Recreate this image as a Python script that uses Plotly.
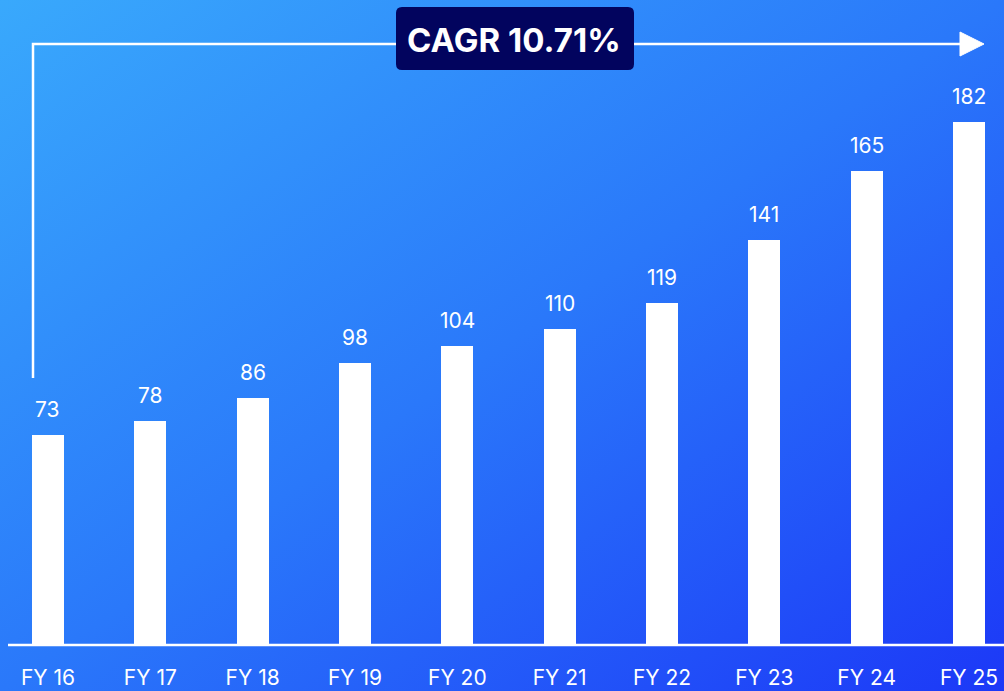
import base64
import plotly.graph_objects as go

categories = ["FY 16", "FY 17", "FY 18", "FY 19", "FY 20", "FY 21", "FY 22", "FY 23", "FY 24", "FY 25"]
values = [73, 78, 86, 98, 104, 110, 119, 141, 165, 182]
cagr_label = "CAGR 10.71%"

W, H = 1004, 691
PLOT_H = 645

svg = f'''<svg xmlns="http://www.w3.org/2000/svg" width="{W}" height="{H}" viewBox="0 0 {W} {H}" preserveAspectRatio="none">
<defs><linearGradient id="g" x1="0" y1="0" x2="1" y2="1">
<stop offset="0" stop-color="#39A9FC"/>
<stop offset="0.5" stop-color="#2A78FA"/>
<stop offset="1" stop-color="#1C38F7"/>
</linearGradient></defs>
<rect width="{W}" height="{H}" fill="url(#g)"/></svg>'''
bg_src = "data:image/svg+xml;base64," + base64.b64encode(svg.encode()).decode()

FONT = "Inter, 'Open Sans', sans-serif"

fig = go.Figure()
fig.add_trace(go.Bar(
    x=categories, y=values, marker=dict(color="white", line=dict(width=0)),
    width=0.315, hoverinfo="skip",
))

for c, v in zip(categories, values):
    fig.add_annotation(x=c, y=v, text=str(v), showarrow=False, yanchor="bottom",
                       yshift=11, font=dict(family=FONT, size=21, color="white"))

def px(x):
    return x / W

def py(y):
    return 1 - y / PLOT_H

shapes = []
# axis line
shapes.append(dict(type="line", xref="paper", yref="paper", x0=px(8), x1=1.0, y0=0, y1=0,
                   line=dict(color="white", width=2.5), layer="above"))
# CAGR connector
path = f"M {px(33)} {py(378)} L {px(33)} {py(44)} L {px(962)} {py(44)}"
shapes.append(dict(type="path", xref="paper", yref="paper", path=path,
                   line=dict(color="white", width=2.5), layer="above"))
# arrow head
tri = f"M {px(960)} {py(32)} L {px(984)} {py(44)} L {px(960)} {py(56)} Z"
shapes.append(dict(type="path", xref="paper", yref="paper", path=tri,
                   fillcolor="white", line=dict(color="white", width=1), layer="above"))
# rounded box
x0, x1, y0, y1, r = 396, 634, 7, 70, 6
box = (f"M {px(x0+r)} {py(y0)} L {px(x1-r)} {py(y0)} Q {px(x1)} {py(y0)} {px(x1)} {py(y0+r)} "
       f"L {px(x1)} {py(y1-r)} Q {px(x1)} {py(y1)} {px(x1-r)} {py(y1)} "
       f"L {px(x0+r)} {py(y1)} Q {px(x0)} {py(y1)} {px(x0)} {py(y1-r)} "
       f"L {px(x0)} {py(y0+r)} Q {px(x0)} {py(y0)} {px(x0+r)} {py(y0)} Z")
shapes.append(dict(type="path", xref="paper", yref="paper", path=box,
                   fillcolor="#02045E", line=dict(color="#02045E", width=0), layer="above"))

fig.add_annotation(xref="paper", yref="paper", x=px(514), y=py(40), text=f"<b>{cagr_label}</b>",
                   showarrow=False, font=dict(family=FONT, size=33, color="white"),
                   xanchor="center", yanchor="middle")

fig.update_layout(
    width=W, height=H,
    margin=dict(l=0, r=0, t=0, b=H - PLOT_H),
    paper_bgcolor="rgba(0,0,0,0)", plot_bgcolor="rgba(0,0,0,0)",
    showlegend=False, shapes=shapes,
    images=[dict(source=bg_src, xref="paper", yref="paper", x=0, y=1, sizex=1,
                 sizey=H / PLOT_H, xanchor="left", yanchor="top", sizing="stretch", layer="below")],
    xaxis=dict(type="category", range=[-0.469, 9.342], showgrid=False, zeroline=False,
               showline=False, ticks="", ticklabelstandoff=18,
               tickfont=dict(family=FONT, size=21, color="white"), fixedrange=True),
    yaxis=dict(range=[0, 224.3], visible=False, showgrid=False, zeroline=False, fixedrange=True),
    bargap=0,
)

fig.write_html("out.html", config={"displayModeBar": False},
               post_script="document.body.style.margin='0';document.body.style.overflow='hidden';")
